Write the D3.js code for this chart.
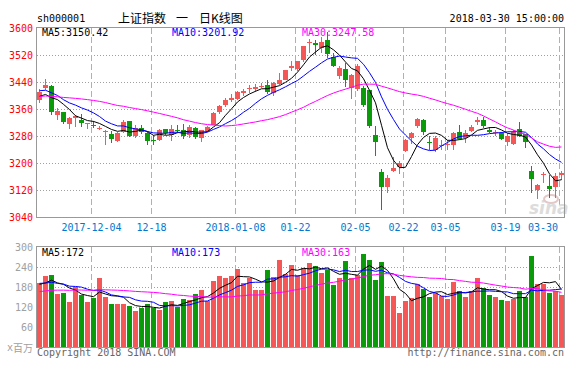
<!DOCTYPE html>
<html>
<head>
<meta charset="utf-8">
<script src="https://cdn.jsdelivr.net/npm/d3@7"></script>
<style>
  body { margin: 0; background: #fff; }
  text { font-family: "DejaVu Sans Mono", monospace; font-size: 10px; }
  .cjk { font-family: "Noto Sans CJK SC", sans-serif; font-size: 12px; }
</style>
</head>
<body>
<div id="chart"></div>
<script>
// trading days shown on the chart
var dates = [
  "2017-11-21","2017-11-22","2017-11-23","2017-11-24","2017-11-27","2017-11-28","2017-11-29","2017-11-30","2017-12-01",
  "2017-12-04","2017-12-05","2017-12-06","2017-12-07","2017-12-08","2017-12-11","2017-12-12","2017-12-13","2017-12-14","2017-12-15",
  "2017-12-18","2017-12-19","2017-12-20","2017-12-21","2017-12-22","2017-12-25","2017-12-26","2017-12-27","2017-12-28","2017-12-29",
  "2018-01-02","2018-01-03","2018-01-04","2018-01-05","2018-01-08","2018-01-09","2018-01-10","2018-01-11","2018-01-12",
  "2018-01-15","2018-01-16","2018-01-17","2018-01-18","2018-01-19","2018-01-22","2018-01-23","2018-01-24","2018-01-25","2018-01-26",
  "2018-01-29","2018-01-30","2018-01-31","2018-02-01","2018-02-02","2018-02-05","2018-02-06","2018-02-07","2018-02-08","2018-02-09",
  "2018-02-12","2018-02-13","2018-02-14","2018-02-22","2018-02-23","2018-02-26","2018-02-27","2018-02-28","2018-03-01","2018-03-02",
  "2018-03-05","2018-03-06","2018-03-07","2018-03-08","2018-03-09","2018-03-12","2018-03-13","2018-03-14","2018-03-15","2018-03-16",
  "2018-03-19","2018-03-20","2018-03-21","2018-03-22","2018-03-23","2018-03-26","2018-03-27","2018-03-28","2018-03-29","2018-03-30"
];

var openPrice = [
  3388,3423,3428,3342,3350,3315,3333,3328,3315,
  3314,3302,3291,3287,3266,3292,3323,3281,3305,3288,
  3269,3268,3300,3283,3299,3297,3282,3305,3275,3296,
  3312,3350,3371,3386,3391,3408,3418,3418,3424,
  3430,3406,3433,3447,3481,3479,3505,3556,3557,3540,
  3565,3513,3458,3478,3422,3420,3422,3417,3282,3173,
  3129,3176,3188,3237,3275,3309,3328,3262,3240,3251,
  3252,3253,3293,3273,3296,3322,3327,3297,3289,3288,
  3262,3256,3302,3285,3175,3119,3164,3133,3130,3164
];
var highPrice = [
  3418,3450,3431,3362,3352,3336,3343,3344,3320,
  3324,3310,3298,3295,3292,3326,3325,3312,3312,3294,
  3283,3300,3302,3312,3312,3315,3312,3308,3298,3309,
  3350,3372,3392,3403,3412,3420,3430,3435,3436,
  3447,3440,3468,3476,3503,3503,3548,3567,3563,3574,
  3587,3525,3488,3495,3463,3494,3429,3417,3311,3183,
  3165,3217,3205,3272,3293,3334,3330,3279,3281,3268,
  3268,3291,3312,3298,3312,3337,3337,3307,3298,3292,
  3290,3298,3322,3286,3190,3137,3173,3163,3170,3176
];
var lowPrice = [
  3378,3416,3343,3326,3316,3302,3307,3307,3302,
  3305,3298,3254,3260,3263,3288,3278,3274,3287,3254,
  3254,3265,3283,3265,3290,3272,3275,3272,3263,3292,
  3312,3345,3365,3381,3388,3400,3406,3410,3421,
  3405,3400,3431,3445,3474,3474,3500,3527,3520,3525,
  3510,3485,3450,3424,3390,3412,3365,3304,3222,3062,
  3111,3173,3168,3232,3257,3304,3283,3240,3233,3239,
  3238,3240,3268,3259,3293,3312,3305,3288,3280,3268,
  3250,3254,3276,3244,3112,3092,3140,3096,3095,3150
];
var closePrice = [
  3410.50,3430.46,3351.92,3353.82,3322.23,3333.66,3337.86,3317.19,3317.62,
  3309.62,3303.68,3293.96,3272.05,3289.99,3322.20,3280.81,3303.04,3292.44,3266.14,
  3267.92,3296.39,3287.61,3300.06,3297.06,3280.46,3306.12,3275.78,3296.38,3307.17,
  3348.33,3369.11,3385.71,3391.75,3409.48,3413.90,3421.83,3425.34,3428.94,
  3410.49,3436.59,3444.67,3474.75,3487.86,3501.36,3546.50,3559.47,3548.31,3558.13,
  3523.00,3488.01,3480.83,3446.98,3462.08,3487.50,3370.65,3309.26,3262.05,3129.85,
  3154.13,3184.96,3199.16,3268.56,3289.02,3329.57,3292.07,3259.41,3273.76,3254.53,
  3256.93,3289.64,3271.67,3288.41,3307.17,3326.70,3310.24,3291.38,3291.11,3269.88,
  3279.25,3290.64,3280.95,3263.48,3152.76,3133.72,3166.65,3122.29,3160.53,3168.90
];
// volume, x百万
var volume = [
  191,212,216,158,163,136,181,156,136,
  146,206,151,130,130,130,123,108,117,130,
  117,112,136,139,120,145,142,160,172,137,
  199,212,206,212,233,192,208,172,172,
  230,209,260,219,246,217,238,252,244,223,
  230,186,208,259,207,217,279,261,201,255,
  153,153,103,139,147,189,175,151,162,153,
  145,195,167,151,168,207,176,157,151,141,
  139,143,168,150,273,188,190,162,168,156
];

// closes and volumes of the days before the window (needed for the moving averages)
var prevClose = [
  3388.3,3386.1,3390.5,3378.5,3372.0,3381.8,3370.2,3378.6,3380.7,3388.2,
  3396.9,3407.6,3416.8,3390.3,3393.3,3395.9,3383.3,3371.7,3388.2,3413.6,
  3415.5,3427.8,3432.7,3447.8,3429.6,3402.5,3399.3,3382.9,3392.4
];
var prevVolume = [
  150,158,147,162,155,149,160,152,146,158,
  163,151,144,157,161,150,148,156,149,159,
  205,188,196,182,199,190,176,198,185
];

var maPeriods = [5, 10, 30];
var maColors = ["#000000", "#0000ff", "#ff00ff"];
var priceLegend = ["3150.42", "3201.92", "3247.58"];
var volumeLegend = ["172", "173", "163"];

var tickDates = ["2017-12-04","2017-12-18","2018-01-08","2018-01-22","2018-02-05","2018-02-22","2018-03-05","2018-03-19","2018-03-30"];
var tickLabels = ["2017-12-04","12-18","2018-01-08","01-22","02-05","02-22","03-05","03-19","03-30"];
var priceTicks = [3040, 3120, 3200, 3280, 3360, 3440, 3520, 3600];
var volumeTicks = [60, 120, 180, 240, 300];

var upColor = "#f55656";
var downColor = "#0a9a0a";

var svgWidth = 588;
var svgHeight = 366;

var svg = d3.select("#chart")
  .append("svg")
  .attr("width", svgWidth)
  .attr("height", svgHeight);

// scales
var xScale = d3.scaleBand()
  .domain(dates)
  .range([36.5, 564.5])
  .paddingInner(1 / 6)
  .paddingOuter(1 / 12);

var priceScale = d3.scaleLinear().domain([3040, 3600]).range([217, 28]);
var volumeScale = d3.scaleLinear().domain([0, 300]).range([347, 247]);

function movingAverage(prev, values, n) {
  var all = prev.concat(values);
  return values.map(function(v, i) {
    var end = prev.length + i + 1;
    return d3.mean(all.slice(end - n, end));
  });
}

var candles = dates.map(function(d, i) {
  return { date: d, o: openPrice[i], h: highPrice[i], l: lowPrice[i], c: closePrice[i], v: volume[i] };
});

// header
svg.append("text").attr("x", 37).attr("y", 22).text("sh000001");
svg.append("text").attr("class", "cjk").attr("x", 118).attr("y", 23).text("上证指数");
svg.append("text").attr("class", "cjk").attr("x", 176).attr("y", 23).text("一");
svg.append("text").attr("class", "cjk").attr("x", 199).attr("y", 23).text("日K线图");
svg.append("text").attr("x", 564).attr("y", 22).attr("text-anchor", "end").text("2018-03-30 15:00:00");

// draw one panel frame + grid
function drawGrid(top, bottom, yScale, ticks) {
  var g = svg.append("g");
  ticks.forEach(function(t) {
    var y = Math.round(yScale(t)) + 0.5;
    if (y > top + 1 && y < bottom - 1) {
      g.append("line")
        .attr("x1", 37).attr("x2", 564)
        .attr("y1", y).attr("y2", y)
        .attr("stroke", "#a0a0a0")
        .attr("stroke-dasharray", "1,2");
    }
  });
  tickDates.forEach(function(d) {
    var x = xScale(d) + 0.5;
    g.append("line")
      .attr("x1", x).attr("x2", x)
      .attr("y1", top).attr("y2", bottom)
      .attr("stroke", "#b0b0b0")
      .attr("stroke-dasharray", "6,3");
  });
  return g;
}

drawGrid(28, 217, priceScale, priceTicks);
drawGrid(247, 347, volumeScale, volumeTicks);

// watermark
var mark = svg.append("g").attr("fill", "#dcdcdc");
mark.append("text")
  .attr("x", 529).attr("y", 214)
  .style("font-family", "DejaVu Sans")
  .style("font-size", "17px")
  .style("font-weight", "bold")
  .style("font-style", "italic")
  .text("sina");
mark.append("ellipse")
  .attr("cx", 551).attr("cy", 199).attr("rx", 7).attr("ry", 4)
  .attr("fill", "none").attr("stroke", "#e4c8c8").attr("stroke-width", 2);

// candles
var candleGroup = svg.append("g").attr("shape-rendering", "crispEdges");

candleGroup.selectAll(".wick")
  .data(candles)
  .enter()
  .append("rect")
  .attr("x", d => xScale(d.date) + 2)
  .attr("width", 1)
  .attr("y", d => priceScale(d.h))
  .attr("height", d => Math.max(1, priceScale(d.l) - priceScale(d.h)))
  .attr("fill", d => d.c >= d.o ? upColor : downColor);

candleGroup.selectAll(".body")
  .data(candles)
  .enter()
  .append("rect")
  .attr("x", d => xScale(d.date))
  .attr("width", xScale.bandwidth())
  .attr("y", d => priceScale(Math.max(d.o, d.c)))
  .attr("height", d => Math.max(1, Math.abs(priceScale(d.o) - priceScale(d.c))))
  .attr("fill", d => d.c >= d.o ? upColor : downColor);

// volume bars
svg.append("g").attr("shape-rendering", "crispEdges")
  .selectAll("rect")
  .data(candles)
  .enter()
  .append("rect")
  .attr("x", d => xScale(d.date))
  .attr("width", xScale.bandwidth())
  .attr("y", d => volumeScale(d.v))
  .attr("height", d => 347 - volumeScale(d.v))
  .attr("fill", d => d.c >= d.o ? upColor : downColor);

// moving averages
maPeriods.forEach(function(n, k) {
  var priceMa = movingAverage(prevClose, closePrice, n);
  var volMa = movingAverage(prevVolume, volume, n);

  var priceLine = d3.line()
    .x((v, i) => xScale(dates[i]) + 2.5)
    .y(v => priceScale(v));
  var volLine = d3.line()
    .x((v, i) => xScale(dates[i]) + 2.5)
    .y(v => volumeScale(v));

  svg.append("path")
    .attr("d", priceLine(priceMa))
    .attr("fill", "none")
    .attr("stroke", maColors[k])
    .attr("stroke-width", 1);
  svg.append("path")
    .attr("d", volLine(volMa))
    .attr("fill", "none")
    .attr("stroke", maColors[k])
    .attr("stroke-width", 1);

  // legends
  svg.append("text")
    .attr("x", 42 + k * 130).attr("y", 36)
    .attr("fill", maColors[k])
    .text("MA" + n + ":" + priceLegend[k]);
  svg.append("text")
    .attr("x", 42 + k * 130).attr("y", 256)
    .attr("fill", maColors[k])
    .text("MA" + n + ":" + volumeLegend[k]);
});

// frames
svg.append("rect")
  .attr("x", 36.5).attr("y", 27.5).attr("width", 528).attr("height", 190)
  .attr("fill", "none").attr("stroke", "#999");
svg.append("rect")
  .attr("x", 36.5).attr("y", 246.5).attr("width", 528).attr("height", 101)
  .attr("fill", "none").attr("stroke", "#999");

// y labels
svg.append("g").selectAll("text")
  .data(priceTicks)
  .enter()
  .append("text")
  .attr("x", 33)
  .attr("y", d => priceScale(d))
  .attr("dy", "0.35em")
  .attr("text-anchor", "end")
  .attr("fill", "#ff0000")
  .text(d => d);

svg.append("g").selectAll("text")
  .data(volumeTicks)
  .enter()
  .append("text")
  .attr("x", 33)
  .attr("y", d => volumeScale(d))
  .attr("dy", "0.35em")
  .attr("text-anchor", "end")
  .attr("fill", "#a0a0a0")
  .text(d => d);

// x labels
svg.append("g").selectAll("text")
  .data(tickDates)
  .enter()
  .append("text")
  .attr("x", (d, i) => i === tickDates.length - 1 ? 558 : xScale(d) + 0.5)
  .attr("y", 231)
  .attr("text-anchor", (d, i) => i === tickDates.length - 1 ? "end" : "middle")
  .attr("fill", "#0078d0")
  .text((d, i) => tickLabels[i]);

// footer
svg.append("text").attr("x", 7).attr("y", 351).attr("fill", "#a0a0a0").text("x");
svg.append("text").attr("class", "cjk").attr("x", 13).attr("y", 352)
  .style("font-size", "10px").attr("fill", "#a0a0a0").text("百万");
svg.append("text").attr("x", 37).attr("y", 356).attr("fill", "#666").text("Copyright 2018 SINA.COM");
svg.append("text").attr("x", 564).attr("y", 356).attr("text-anchor", "end").attr("fill", "#666").text("http://finance.sina.com.cn");
</script>
</body>
</html>
